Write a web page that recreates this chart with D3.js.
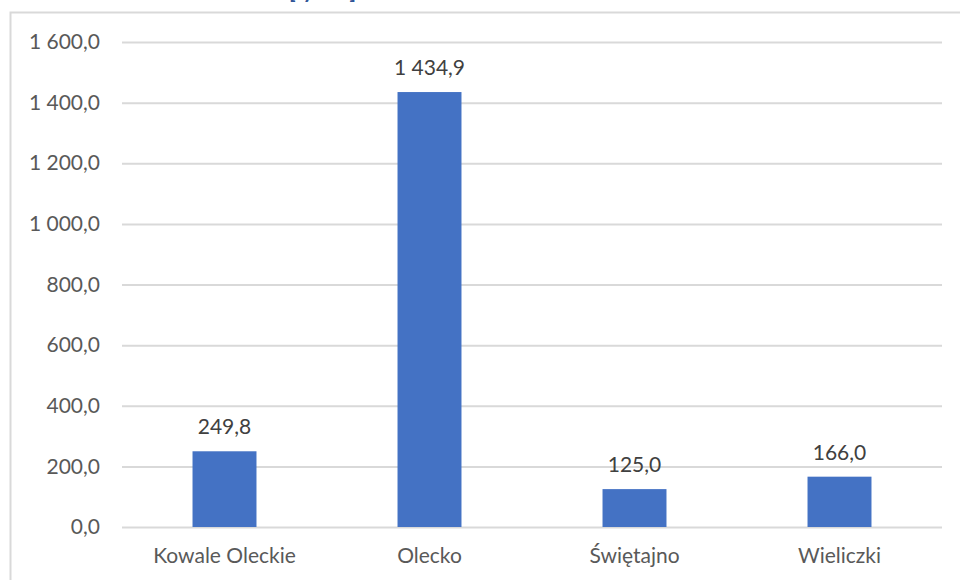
<!DOCTYPE html>
<html><head><meta charset="utf-8">
<script src="https://cdn.jsdelivr.net/npm/d3@7"></script>
<style>body{margin:0;background:#fff;overflow:hidden}svg{display:block}</style>
</head><body><svg id="c" width="960" height="580"></svg>
<script>
const categories = ["Kowale Oleckie", "Olecko", "Świętajno", "Wieliczki"];
const values = [249.8, 1434.9, 125.0, 166.0];
const yTicks = [0, 200, 400, 600, 800, 1000, 1200, 1400, 1600];
const titleText = "[tys. zł]";

const pl = d3.formatLocale({decimal: ",", thousands: "\u00a0", grouping: [3], currency: ["", " zł"]});
const fmt = pl.format(",.1f");

const svg = d3.select("#c");
const font = "Lato, 'Open Sans', sans-serif";
const fs = 21;
const mLeft = 122, mRight = 942, mTop = 42, mBottom = 527;

// outer chart border
svg.append("path").attr("d", "M10.5,580 V12.5 H960").attr("fill", "none").attr("stroke", "#d9d9d9").attr("stroke-width", 2);

// cut-off title
svg.append("text").attr("x", 289).attr("y", -2).attr("font-family", font).attr("font-weight", "bold")
  .attr("font-size", 21).attr("fill", "#2f5597").text(titleText);

const x = d3.scaleBand().domain(categories).range([mLeft, mRight]).paddingInner(0.688).paddingOuter(0.344);
const y = d3.scaleLinear().domain([0, 1600]).range([mBottom, mTop]);

const yAxis = svg.append("g").attr("transform", `translate(${mLeft},0)`)
  .call(d3.axisLeft(y).tickValues(yTicks).tickFormat(fmt).tickSize(-(mRight - mLeft)).tickPadding(22));
yAxis.select(".domain").remove();
yAxis.selectAll(".tick line").attr("stroke", "#d9d9d9").attr("stroke-width", 2);
yAxis.selectAll(".tick text").attr("font-family", font).attr("font-size", fs).attr("fill", "#595959");

svg.append("g").selectAll("rect").data(values).join("rect")
  .attr("x", (d, i) => x(categories[i])).attr("width", x.bandwidth())
  .attr("y", d => y(d)).attr("height", d => y(0) - y(d)).attr("fill", "#4472c4");

svg.append("g").selectAll("text").data(values).join("text")
  .attr("x", (d, i) => x(categories[i]) + x.bandwidth() / 2).attr("y", d => y(d) - 17)
  .attr("text-anchor", "middle").attr("font-family", font).attr("font-size", fs).attr("fill", "#404040")
  .text(d => fmt(d));

const xAxis = svg.append("g").attr("transform", `translate(0,${mBottom})`)
  .call(d3.axisBottom(x).tickSize(0).tickPadding(21));
xAxis.select(".domain").remove();
xAxis.selectAll(".tick text").attr("font-family", font).attr("font-size", fs).attr("fill", "#595959");
</script></body></html>
